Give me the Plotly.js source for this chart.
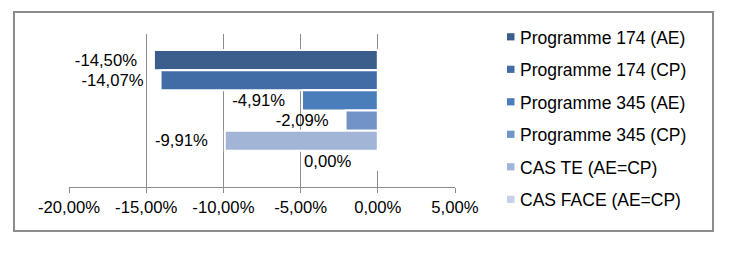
<!DOCTYPE html>
<html>
<head>
<meta charset="utf-8">
<script src="https://cdn.plot.ly/plotly-3.0.1.min.js"></script>
<style>
html,body{margin:0;padding:0;background:#fff;}
#chart{width:754px;height:272px;}
</style>
</head>
<body>
<div id="chart"></div>
<script>
var seriesNames = ["Programme 174 (AE)", "Programme 174 (CP)", "Programme 345 (AE)", "Programme 345 (CP)", "CAS TE (AE=CP)", "CAS FACE (AE=CP)"];
var seriesValues = [-14.50, -14.07, -4.91, -2.09, -9.91, 0.00];
var seriesColors = ["#3b5e8c", "#416ca6", "#4a7ebb", "#7293c7", "#a3b5d6", "#c6d1e6"];
var tickValues = [-20, -15, -10, -5, 0, 5];
var tickLabels = ["-20,00%", "-15,00%", "-10,00%", "-5,00%", "0,00%", "5,00%"];

function fmt(v) { return v.toFixed(2).replace(".", ",") + "%"; }
var pad = "\u00a0\u00a0\u00a0";

var FONT = "Liberation Sans, Arial, sans-serif";
var BARGAP = 0.21;
var n = seriesNames.length;

// plot area geometry (pixels)
var L = 69, R = 299, T = 34, B = 85, W = 754, H = 272;
var PW = W - L - R, PH = H - T - B;
function px2x(px) { return (px - L) / PW; }
function py2y(py) { return (H - B - py) / PH; }

var annotations = [];
var traces = seriesNames.map(function (name, i) {
  var v = seriesValues[i];
  var labelInside = v < 0;
  if (!labelInside) {
    // zero-valued bar: label sits to the left of the zero line
    var slot = (1 - BARGAP) / n;
    var yc = -(1 - BARGAP) / 2 + slot * (i + 0.5);
    annotations.push({
      x: v, y: yc, xref: "x", yref: "y", text: fmt(v),
      showarrow: false, xanchor: "right", yanchor: "middle", xshift: -25, yshift: -1,
      font: {family: FONT, size: 16.7, color: "#000"}
    });
  }
  return {
    type: "bar",
    orientation: "h",
    name: name,
    x: [v],
    y: [0],
    text: [labelInside ? fmt(v) + pad : ""],
    textposition: labelInside ? "outside" : "none",
    cliponaxis: false,
    textfont: {family: FONT, size: 16.7, color: "#000"},
    marker: {color: seriesColors[i], line: {color: "#ffffff", width: 2}},
    showlegend: false,
    hoverinfo: "x+name"
  };
});

// legend (drawn as squares + labels)
var shapes = [{
  type: "rect", xref: "paper", yref: "paper",
  x0: px2x(14), x1: px2x(713), y0: py2y(231), y1: py2y(12),
  line: {color: "#8c8c8c", width: 2}, fillcolor: "rgba(0,0,0,0)", layer: "below"
}];
seriesNames.forEach(function (name, i) {
  var cy = 36.8 + i * 32.5;
  shapes.push({
    type: "rect", xref: "paper", yref: "paper",
    x0: px2x(507), x1: px2x(514.5), y0: py2y(cy + 3.6), y1: py2y(cy - 3.6),
    line: {width: 0}, fillcolor: seriesColors[i]
  });
  annotations.push({
    xref: "paper", yref: "paper", x: px2x(518), y: py2y(cy + 1),
    xanchor: "left", yanchor: "middle", showarrow: false, text: name,
    font: {family: FONT, size: 17.5, color: "#000"}
  });
});

var layout = {
  width: W, height: H,
  margin: {l: L, r: R, t: T, b: B},
  paper_bgcolor: "#fff", plot_bgcolor: "#fff",
  barmode: "group", bargap: BARGAP, bargroupgap: 0,
  showlegend: false,
  font: {family: FONT, size: 16.7, color: "#000"},
  xaxis: {
    range: [-20, 5], tickvals: tickValues, ticktext: tickLabels,
    showgrid: true, gridcolor: "#8c8c8c", gridwidth: 1,
    zeroline: false, showline: true, linecolor: "#8c8c8c", linewidth: 1,
    ticks: "outside", ticklen: 5, tickcolor: "#8c8c8c",
    tickfont: {family: FONT, size: 16.7, color: "#000"},
    fixedrange: true
  },
  yaxis: {
    type: "linear", range: [0.5, -0.5], showticklabels: false, showgrid: false,
    zeroline: false, showline: false, ticks: "", fixedrange: true
  },
  shapes: shapes,
  annotations: annotations
};

Plotly.newPlot("chart", traces, layout, {displayModeBar: false, staticPlot: true});
</script>
</body>
</html>
